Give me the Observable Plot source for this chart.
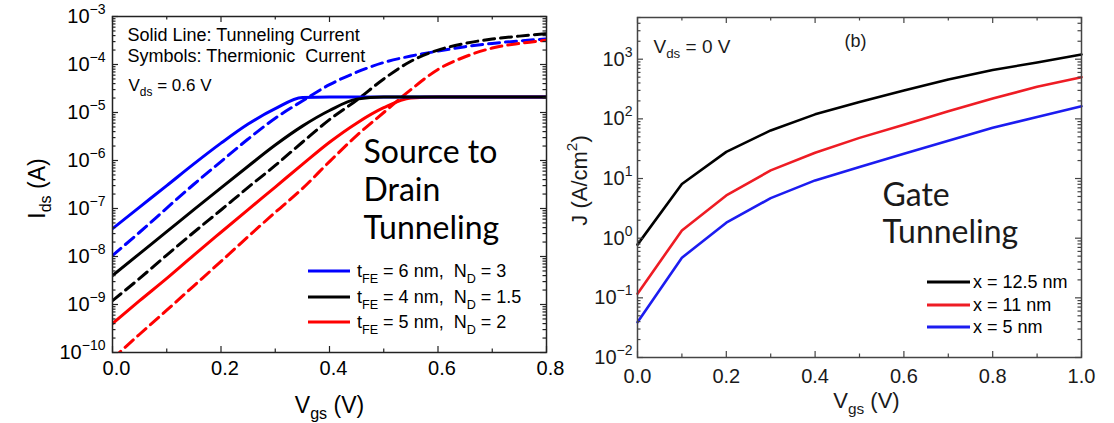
<!DOCTYPE html>
<html>
<head>
<meta charset="utf-8">
<script src="https://cdn.jsdelivr.net/npm/d3@7"></script>
<script src="https://cdn.jsdelivr.net/npm/@observablehq/plot@0.6"></script>
<style>
  body { margin: 0; background: #fff; }
  #fig { position: relative; width: 1114px; height: 423px; overflow: hidden; background: #fff; }
  #left { position: absolute; left: 0; top: 0; width: 553px; height: 423px; }
  #right { position: absolute; left: 553px; top: 0; width: 561px; height: 423px; }
</style>
</head>
<body>
<div id="fig"><div id="left"></div><div id="right"></div></div>
<script>
// ---- Source-to-drain current Ids (A) versus Vgs (V), Vds = 0.6 V ----
const vgsSD = [0, 0.05, 0.1, 0.15, 0.2, 0.25, 0.3, 0.35, 0.4, 0.45, 0.5, 0.55, 0.6, 0.65, 0.7, 0.75, 0.8];
// tFE = 6 nm, ND = 3
const tunnelTfe6 = [3.8e-8, 1.07e-7, 3.0e-7, 8.5e-7, 2.3e-6, 5.75e-6, 1.2e-5, 2.05e-5, 2.1e-5, 2.1e-5, 2.1e-5, 2.1e-5, 2.1e-5, 2.1e-5, 2.1e-5, 2.1e-5, 2.1e-5];
const thermTfe6 = [1.05e-8, 3.2e-8, 1.02e-7, 3.2e-7, 9.5e-7, 2.8e-6, 7.6e-6, 1.74e-5, 3.8e-5, 6.9e-5, 1.1e-4, 1.5e-4, 1.9e-4, 2.35e-4, 2.75e-4, 3.1e-4, 3.4e-4];
// tFE = 4 nm, ND = 1.5
const tunnelTfe4 = [4.0e-9, 1.15e-8, 3.3e-8, 9.5e-8, 2.7e-7, 7.6e-7, 2.1e-6, 5.2e-6, 1.1e-5, 1.9e-5, 2.1e-5, 2.1e-5, 2.1e-5, 2.1e-5, 2.1e-5, 2.1e-5, 2.1e-5];
const thermTfe4 = [1.2e-9, 3.5e-9, 1.07e-8, 3.2e-8, 9.3e-8, 2.75e-7, 7.9e-7, 2.4e-6, 7.1e-6, 1.8e-5, 5.0e-5, 1.17e-4, 2.0e-4, 2.75e-4, 3.4e-4, 3.9e-4, 4.4e-4];
// tFE = 5 nm, ND = 2
const tunnelTfe5 = [4.0e-10, 1.2e-9, 3.5e-9, 1.07e-8, 3.2e-8, 9.5e-8, 2.8e-7, 8.3e-7, 2.4e-6, 6.0e-6, 1.26e-5, 2.0e-5, 2.1e-5, 2.1e-5, 2.1e-5, 2.1e-5, 2.1e-5];
const thermTfe5 = [7.4e-11, 2.4e-10, 7.6e-10, 2.45e-9, 7.9e-9, 2.6e-8, 8.3e-8, 2.6e-7, 9.5e-7, 3.3e-6, 1.0e-5, 3.0e-5, 7.9e-5, 1.45e-4, 2.2e-4, 2.75e-4, 3.2e-4];

const sdTicksX = [0, 0.2, 0.4, 0.6, 0.8];
const sdTicksXMinor = [0.1, 0.3, 0.5, 0.7];
const sdDecades = [1e-10, 1e-9, 1e-8, 1e-7, 1e-6, 1e-5, 1e-4, 1e-3];
const sdLegend = ["t_{FE} = 6 nm,\u00a0 N_{D} = 3", "t_{FE} = 4 nm,\u00a0 N_{D} = 1.5", "t_{FE} = 5 nm,\u00a0 N_{D} = 2"];

// ---- Gate tunneling current density J (A/cm2) versus Vgs (V), Vds = 0 V ----
const vgsGate = [0, 0.1, 0.2, 0.3, 0.4, 0.5, 0.6, 0.7, 0.8, 0.9, 1.0];
const gateX125 = [0.78, 8.1, 28, 64, 119, 192, 300, 457, 661, 880, 1200];
const gateX11 = [0.117, 1.35, 5.2, 13.7, 27, 48, 80, 134, 219, 344, 500];
const gateX5 = [0.039, 0.47, 1.82, 4.7, 9.3, 15.6, 26, 43, 71, 107, 163];

const gateTicksX = [0, 0.2, 0.4, 0.6, 0.8, 1.0];
const gateTicksXMinor = [0.1, 0.3, 0.5, 0.7, 0.9];
const gateDecades = [1e-2, 1e-1, 1e0, 1e1, 1e2, 1e3];
const gateLegend = ["x = 12.5 nm", "x = 11 nm", "x = 5 nm"];

// ---------------------------------------------------------------------------
const H = 423;
const pow10 = d => `10^{${String(Math.round(Math.log10(d))).replace("-", "\u2212")}}`;
const minorDecades = (decades, top) => {
  const out = [];
  for (const d of decades) for (let k = 2; k <= 9; ++k) if (k * d <= top * 1.0001) out.push(k * d);
  return out;
};
const series = (xs, ys) => xs.map((x, i) => ({x, y: ys[i]}));

// Short ticks pointing into the frame on all four sides.
function innerTicks({yMajor, yMinor, xMajor, xMinor, innerW, innerH, stroke}) {
  const maj = 6, mn = 3.5, sw = 1.2;
  return [
    Plot.tickY(yMajor, {y: d => d, insetRight: innerW - maj, stroke, strokeWidth: sw}),
    Plot.tickY(yMajor, {y: d => d, insetLeft: innerW - maj, stroke, strokeWidth: sw}),
    Plot.tickY(yMinor, {y: d => d, insetRight: innerW - mn, stroke, strokeWidth: sw}),
    Plot.tickY(yMinor, {y: d => d, insetLeft: innerW - mn, stroke, strokeWidth: sw}),
    Plot.tickX(xMajor, {x: d => d, insetTop: innerH - maj, stroke, strokeWidth: sw}),
    Plot.tickX(xMajor, {x: d => d, insetBottom: innerH - maj, stroke, strokeWidth: sw}),
    Plot.tickX(xMinor, {x: d => d, insetTop: innerH - mn, stroke, strokeWidth: sw}),
    Plot.tickX(xMinor, {x: d => d, insetBottom: innerH - mn, stroke, strokeWidth: sw})
  ];
}

// Turns "_{...}" and "^{...}" into lowered / raised tspans.
function enrich(svg) {
  d3.select(svg).selectAll("text").each(function () {
    const el = this;
    if (el.querySelector("tspan")) return;
    const s = el.textContent;
    if (!/[_^]\{/.test(s)) return;
    const fs = parseFloat(getComputedStyle(el).fontSize) || 16;
    el.textContent = "";
    let shift = 0, m;
    const re = /([_^])\{([^}]*)\}|([^_^]+)/g;
    while ((m = re.exec(s))) {
      const t = document.createElementNS("http://www.w3.org/2000/svg", "tspan");
      let target, txt;
      if (m[3] !== undefined) { target = 0; txt = m[3]; }
      else {
        target = m[1] === "_" ? 0.3 * fs : -0.45 * fs;
        txt = m[2];
        t.setAttribute("font-size", (0.7 * fs).toFixed(1));
      }
      if (target !== shift) t.setAttribute("dy", (target - shift).toFixed(2));
      shift = target;
      t.textContent = txt;
      el.appendChild(t);
    }
  });
}

function addLegend(svg, {x0, x1, xText, ys, labels, colors, fontSize, strokeWidth}) {
  const g = d3.select(svg).append("g")
    .attr("font-family", "'Liberation Sans', Arial, sans-serif")
    .attr("text-anchor", "start");
  labels.forEach((lab, i) => {
    g.append("line").attr("x1", x0).attr("x2", x1).attr("y1", ys[i]).attr("y2", ys[i])
      .attr("stroke", colors[i]).attr("stroke-width", strokeWidth);
    g.append("text").attr("x", xText).attr("y", ys[i]).attr("dy", "0.35em")
      .attr("font-size", fontSize).attr("fill", "#000").text(lab);
  });
}

// ---- left panel ----
{
  const W = 553, m = {top: 16, right: 7, bottom: 71, left: 112};
  const innerW = W - m.left - m.right, innerH = H - m.top - m.bottom;
  const sdLines = [
    {v: thermTfe6, c: "#0000ff", dash: "11,6"},
    {v: thermTfe4, c: "#000000", dash: "11,6"},
    {v: thermTfe5, c: "#ff0000", dash: "11,6"},
    {v: tunnelTfe5, c: "#ff0000", dash: null},
    {v: tunnelTfe6, c: "#0000ff", dash: null},
    {v: tunnelTfe4, c: "#000000", dash: null}
  ];
  const big = {fontFamily: "Lato, 'Open Sans', sans-serif", fontSize: 32, textAnchor: "start", lineAnchor: "bottom", frameAnchor: "top-left"};
  const small = {fontSize: 18, textAnchor: "start", lineAnchor: "bottom", frameAnchor: "top-left"};
  const plot = Plot.plot({
    width: W, height: H,
    marginTop: m.top, marginRight: m.right, marginBottom: m.bottom, marginLeft: m.left,
    style: {fontFamily: "'Liberation Sans', Arial, sans-serif", fontSize: "20px", color: "#000", background: "transparent", overflow: "visible"},
    x: {domain: [0, 0.8], axis: null},
    y: {type: "log", domain: [1e-10, 1e-3], axis: null},
    marks: [
      ...sdLines.map(s => Plot.line(series(vgsSD, s.v), {x: "x", y: "y", stroke: s.c, strokeWidth: 3, strokeDasharray: s.dash, curve: "monotone-x", clip: true})),
      ...innerTicks({yMajor: sdDecades, yMinor: minorDecades(sdDecades.slice(0, -1), 1e-3), xMajor: sdTicksX, xMinor: sdTicksXMinor, innerW, innerH, stroke: "#222"}),
      Plot.frame({stroke: "#222", strokeWidth: 1.5}),
      Plot.axisY(sdDecades, {tickSize: 0, tickPadding: 7, tickFormat: pow10, fontSize: 20, label: null}),
      Plot.axisX(sdTicksX, {tickSize: 0, tickPadding: 8, tickFormat: d3.format(".1f"), fontSize: 20, dx: 4, label: null}),
      Plot.text(["V_{gs} (V)"], {text: d => d, frameAnchor: "bottom", dy: 60, lineAnchor: "bottom", fontSize: 23}),
      Plot.text(["I_{ds} (A)"], {text: d => d, frameAnchor: "left", dx: -68, dy: 4, rotate: -90, lineAnchor: "bottom", textAnchor: "middle", fontSize: 23}),
      Plot.text(["Solid Line: Tunneling Current"], {text: d => d, ...small, dx: 15, dy: 24}),
      Plot.text(["Symbols: Thermionic\u00a0 Current"], {text: d => d, ...small, dx: 15, dy: 45}),
      Plot.text(["V_{ds} = 0.6 V"], {text: d => d, ...small, fontSize: 17, dx: 16, dy: 74}),
      Plot.text(["Source to"], {text: d => d, ...big, dx: 251, dy: 146}),
      Plot.text(["Drain"], {text: d => d, ...big, dx: 251, dy: 184}),
      Plot.text(["Tunneling"], {text: d => d, ...big, dx: 251, dy: 222})
    ]
  });
  document.getElementById("left").appendChild(plot);
  addLegend(plot, {x0: 308, x1: 350, xText: 357, ys: [271, 297, 322], labels: sdLegend, colors: ["#0000ff", "#000000", "#ff0000"], fontSize: 18, strokeWidth: 3});
  enrich(plot);
}

// ---- right panel ----
{
  const W = 561, m = {top: 17, right: 33, bottom: 66, left: 84};
  const innerW = W - m.left - m.right, innerH = H - m.top - m.bottom;
  const gateLines = [
    {v: gateX125, c: "#000000"},
    {v: gateX11, c: "#ee1c24"},
    {v: gateX5, c: "#1c1cf0"}
  ];
  const big = {fontFamily: "Lato, 'Open Sans', sans-serif", fontSize: 32, textAnchor: "start", lineAnchor: "bottom", frameAnchor: "top-left"};
  const plot = Plot.plot({
    width: W, height: H,
    marginTop: m.top, marginRight: m.right, marginBottom: m.bottom, marginLeft: m.left,
    style: {fontFamily: "'Liberation Sans', Arial, sans-serif", fontSize: "20px", color: "#1a1a1a", background: "transparent"},
    x: {domain: [0, 1], axis: null},
    y: {type: "log", domain: [1e-2, 5e3], axis: null},
    marks: [
      ...gateLines.map(s => Plot.line(series(vgsGate, s.v), {x: "x", y: "y", stroke: s.c, strokeWidth: 2.6})),
      ...innerTicks({yMajor: gateDecades, yMinor: minorDecades(gateDecades, 5e3), xMajor: gateTicksX, xMinor: gateTicksXMinor, innerW, innerH, stroke: "#444"}),
      Plot.frame({stroke: "#444", strokeWidth: 1.5}),
      Plot.axisY(gateDecades, {tickSize: 0, tickPadding: 5, tickFormat: pow10, fontSize: 20, label: null}),
      Plot.axisX(gateTicksX, {tickSize: 0, tickPadding: 11, tickFormat: d3.format(".1f"), fontSize: 20, label: null}),
      Plot.text(["V_{gs} (V)"], {text: d => d, frameAnchor: "bottom", dx: 7, dy: 50, lineAnchor: "bottom", fontSize: 22}),
      Plot.text(["J (A/cm^{2})"], {text: d => d, frameAnchor: "left", dx: -51, dy: -7, rotate: -90, lineAnchor: "bottom", textAnchor: "middle", fontSize: 22}),
      Plot.text(["V_{ds} = 0 V"], {text: d => d, frameAnchor: "top-left", textAnchor: "start", lineAnchor: "bottom", dx: 16, dy: 35, fontSize: 19}),
      Plot.text(["(b)"], {text: d => d, frameAnchor: "top-left", textAnchor: "middle", lineAnchor: "bottom", dx: 218, dy: 29, fontSize: 18}),
      Plot.text(["Gate"], {text: d => d, ...big, dx: 245, dy: 188}),
      Plot.text(["Tunneling"], {text: d => d, ...big, dx: 245, dy: 225})
    ]
  });
  document.getElementById("right").appendChild(plot);
  addLegend(plot, {x0: 927 - 553, x1: 970 - 553, xText: 973 - 553, ys: [282, 305, 327], labels: gateLegend, colors: ["#000000", "#ee1c24", "#1c1cf0"], fontSize: 18, strokeWidth: 3});
  enrich(plot);
}
</script>
</body>
</html>
